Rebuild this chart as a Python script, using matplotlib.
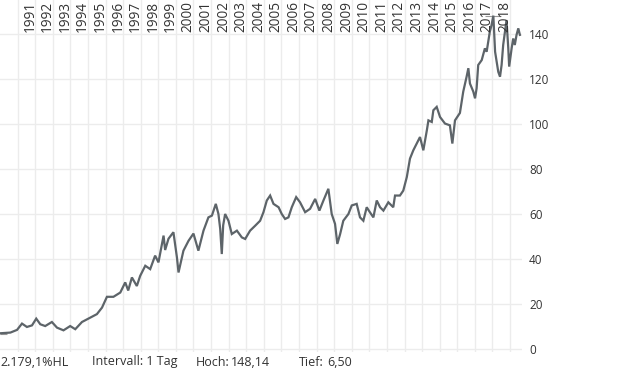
"""Long-term daily HL price chart (1990-2019)."""

import matplotlib

matplotlib.use("Agg")
import matplotlib.pyplot as plt

plt.rcParams["font.family"] = ["Open Sans", "DejaVu Sans"]

# approximate price path (decimal year, price)
years = [
    1990.02, 1990.59, 1990.97, 1991.25, 1991.53, 1991.82, 1992.06, 1992.29,
    1992.57, 1992.95, 1993.24, 1993.61, 1993.99, 1994.28, 1994.66, 1995.03,
    1995.51, 1995.80, 1996.08, 1996.45, 1996.84, 1997.12, 1997.29, 1997.50,
    1997.78, 1997.97, 1998.26, 1998.54, 1998.82, 1999.01, 1999.30, 1999.39,
    1999.58, 1999.86, 2000.06, 2000.15, 2000.43, 2000.72, 2001.00, 2001.28,
    2001.57, 2001.85, 2002.05, 2002.27, 2002.42, 2002.52, 2002.61, 2002.69,
    2002.80, 2002.99, 2003.18, 2003.47, 2003.75, 2003.94, 2004.22, 2004.51,
    2004.79, 2004.98, 2005.17, 2005.36, 2005.55, 2005.84, 2006.02, 2006.21,
    2006.40, 2006.59, 2006.84, 2007.06, 2007.35, 2007.63, 2007.92, 2008.16,
    2008.39, 2008.67, 2008.86, 2009.05, 2009.18, 2009.34, 2009.52, 2009.81,
    2010.00, 2010.28, 2010.47, 2010.66, 2010.85, 2011.03, 2011.23, 2011.42,
    2011.61, 2011.80, 2012.08, 2012.36, 2012.46, 2012.74, 2012.93, 2013.13,
    2013.31, 2013.50, 2013.69, 2013.88, 2014.07, 2014.27, 2014.36, 2014.55,
    2014.64, 2014.83, 2015.02, 2015.30, 2015.58, 2015.72, 2015.87,
    2016.15, 2016.34, 2016.53, 2016.63, 2016.72, 2016.91, 2017.01, 2017.10,
    2017.19, 2017.39, 2017.57, 2017.67, 2017.76, 2017.85, 2017.95, 2018.05,
    2018.15, 2018.24, 2018.33, 2018.43, 2018.52, 2018.61, 2018.71, 2018.80,
    2018.90, 2018.95, 2019.09, 2019.18, 2019.27, 2019.37, 2019.47, 2019.56,
]
prices = [
    7.0, 7.3, 8.5, 11.3, 9.8, 10.5, 13.5, 11.0,
    10.2, 12.0, 9.5, 8.3, 10.2, 8.8, 12.0, 13.5,
    15.5, 18.4, 23.2, 23.2, 25.1, 29.6, 26.0, 31.8,
    28.0, 32.5, 37.0, 35.5, 41.5, 38.5, 50.4, 44.0,
    49.0, 51.9, 40.7, 34.0, 43.7, 48.1, 51.3, 43.7,
    52.6, 58.5, 59.3, 64.5, 60.0, 53.4, 42.2, 55.0,
    60.0, 57.0, 51.1, 52.6, 49.6, 48.9, 52.6, 54.8,
    57.0, 60.8, 66.0, 68.2, 64.5, 63.0, 60.0, 57.8,
    58.5, 63.0, 67.5, 65.2, 60.8, 62.3, 66.7, 61.5,
    66.0, 71.2, 60.0, 55.6, 46.7, 51.1, 57.0, 60.0,
    63.8, 64.5, 58.5, 57.0, 63.0, 60.8, 58.5, 66.0,
    63.0, 61.5, 65.2, 63.0, 68.2, 68.2, 70.4, 76.4,
    84.6, 88.3, 91.3, 94.2, 88.3, 97.2, 101.6, 100.9,
    106.1, 107.6, 103.1, 100.2, 99.4, 91.3, 101.6,
    104.9, 114.4, 121.0, 124.8, 118.0, 114.4, 111.4, 115.9,
    126.2, 128.4, 133.6, 132.1, 136.6, 141.0, 144.0, 148.14,
    132.1, 127.7, 123.2, 121.0, 126.2, 135.1, 141.0, 146.2,
    133.6, 125.5, 133.6, 138.0, 135.1, 139.6, 142.5, 139.6,
]

year_labels = list(range(1991, 2019))
year_grid = list(range(1991, 2020))
y_ticks = [0, 20, 40, 60, 80, 100, 120, 140]

hoch = 148.14
tief = 6.50
hoch_span = (2017.6, 2018.5)
tief_span = (1990.02, 1990.4)
perf_text = "2.179,1%HL"
interval_text = "Intervall: 1 Tag"

line_color = "#5d6469"
grid_color = "#ececec"
text_color = "#333333"

fig = plt.figure(figsize=(6.2, 3.72), dpi=100)
ax = fig.add_axes([0.0, 20 / 372, 522 / 620, 352 / 372])

ax.set_xlim(1990.0, 2019.68)
ax.set_ylim(-1.33, 155.1)

for yr in year_grid:
    ax.axvline(yr, color=grid_color, lw=1.0, zorder=0)
for yt in y_ticks:
    ax.axhline(yt, color=grid_color, lw=1.0, zorder=0)

ax.plot(years, prices, color=line_color, lw=1.6, solid_joinstyle="miter", zorder=3)
ax.hlines(hoch, *hoch_span, color="#9a9a9a", lw=0.8, zorder=2)
ax.hlines(tief, *tief_span, color="#9a9a9a", lw=0.8, zorder=2)

for yr in year_labels:
    ax.annotate(
        str(yr),
        xy=(yr, 0.909),
        xycoords=("data", "axes fraction"),
        xytext=(3.5, 0),
        textcoords="offset points",
        rotation=90,
        ha="left",
        va="bottom",
        fontsize=9.8,
        color=text_color,
    )

ax.set_xticks([])
ax.set_yticks(y_ticks)
ax.yaxis.tick_right()
ax.tick_params(axis="y", length=0, pad=5, labelsize=8.5, labelcolor=text_color)
for side in ["top", "bottom", "left", "right"]:
    ax.spines[side].set_visible(False)

# footer line: (x position in px, text)
footer_y = 10 / 372
footer_items = [
    (0, perf_text),
    (92, interval_text),
    (196, "Hoch:"),
    (231, f"{hoch:.2f}".replace(".", ",")),
    (299, "Tief:"),
    (327, f"{tief:.2f}".replace(".", ",")),
]
for px, txt in footer_items:
    fig.text(px / 620, footer_y, txt, fontsize=9, color=text_color, va="center")

fig.savefig("out.png", dpi=100)
plt.close(fig)
